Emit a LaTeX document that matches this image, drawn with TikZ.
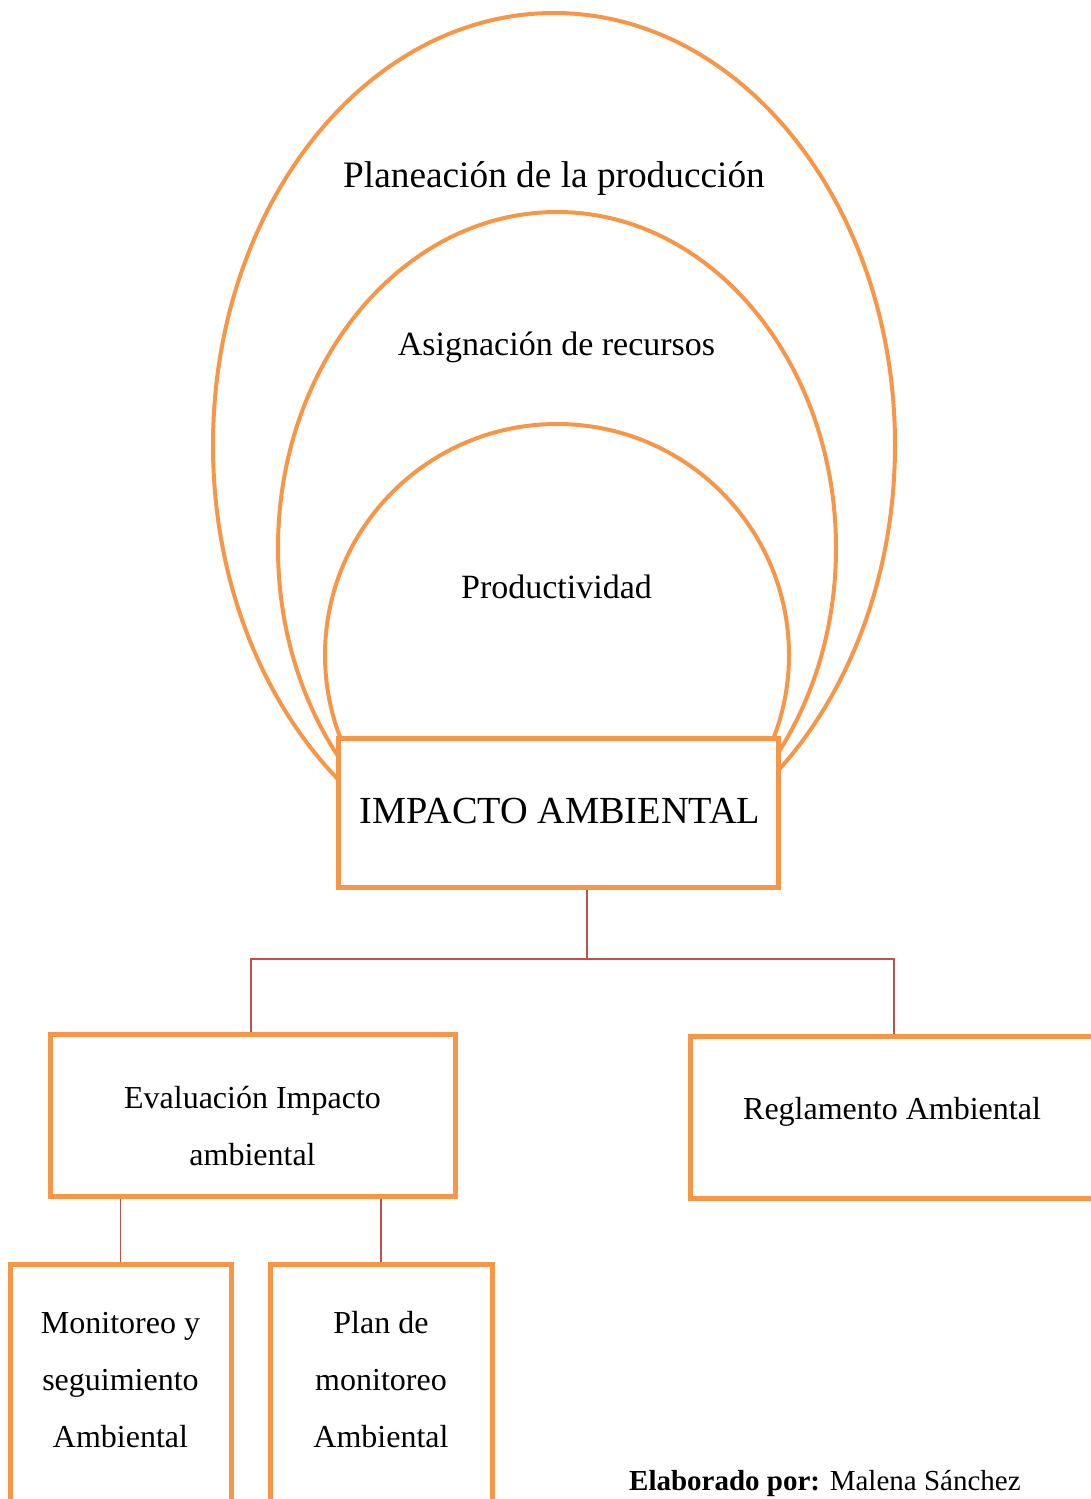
\documentclass[tikz,border=0pt]{standalone}
\usepackage{fontspec}
\setmainfont{Liberation Serif}
\usetikzlibrary{shapes.geometric,calc}
\definecolor{boxorange}{HTML}{F79646}
\definecolor{linkred}{HTML}{C0504D}
\tikzset{
  ring/.style={ellipse, draw=boxorange, line width=4pt, inner sep=0pt},
  framebox/.style={rectangle, draw=boxorange, line width=5pt, inner sep=0pt, fill=white},
  link/.style={draw=linkred, line width=1.8pt},
  bigtext/.style={font=\fontsize{37.3}{44}\selectfont, inner sep=0pt, anchor=base},
  midtext/.style={font=\fontsize{34}{40}\selectfont, inner sep=0pt, anchor=base},
  boxtext/.style={font=\fontsize{32}{57}\selectfont, inner sep=0pt, align=center, anchor=base},
}
\begin{document}
\begin{tikzpicture}[x=1pt, y=-1pt]
\useasboundingbox (0,0) rectangle (1091,1499);
\clip (0,0) rectangle (1091,1499);

% nested rings
\node[ring, minimum width=682pt, minimum height=864pt] (outer) at (554,445) {};
\node[ring, minimum width=558pt, minimum height=672pt] (middle) at (557,548) {};
\node[ring, minimum width=464pt, minimum height=462pt] (inner) at (557,655) {};

\node[bigtext] (tplan) at (554,187) {Planeación de la producción};
\node[midtext] (tasig) at (556.5,355) {Asignación de recursos};
\node[midtext] (tprod) at (556.5,598) {Productividad};

% central box
\node[framebox, minimum width=440pt, minimum height=149pt] (imp) at (558,812.5) {};
\node[bigtext, font=\fontsize{38.3}{44}\selectfont] (timp) at (560,823) {IMPACTO AMBIENTAL};

% second level (multi-line text is anchored at the baseline of its last line)
\node[framebox, minimum width=405pt, minimum height=162pt] (eval) at (252.5,1115) {};
\node[boxtext] (teval) at (252.5,1165) {Evaluación Impacto\\ambiental};
\node[framebox, minimum width=420pt, minimum height=162pt] (regl) at (900,1117) {};
\node[boxtext] (tregl) at (892,1119) {Reglamento Ambiental};

% third level
\node[framebox, minimum width=221pt, minimum height=256pt] (mon) at (120.5,1392) {};
\node[boxtext] (tmon) at (120.5,1447) {Monitoreo y\\seguimiento\\Ambiental};
\node[framebox, minimum width=222pt, minimum height=256pt] (plan) at (381,1392) {};
\node[boxtext] (tplanm) at (381,1447) {Plan de\\monitoreo\\Ambiental};

% connectors
\coordinate (hub) at (587,959);
\coordinate (jl) at (251,959);
\coordinate (jr) at (894,959);
\draw[link] (hub |- imp.south) -- (hub);
\draw[link] (jl |- eval.north) -- (jl) -- (jr) -- (jr |- regl.north);
\draw[link] (eval.south -| mon.north) -- (mon.north);
\draw[link] (eval.south -| plan.north) -- (plan.north);

% credit line
\node[font=\fontsize{29}{35}\selectfont, inner sep=0pt, anchor=base west] (credit) at (629,1490) {\textbf{Elaborado por:} Malena Sánchez};
\end{tikzpicture}
\end{document}
